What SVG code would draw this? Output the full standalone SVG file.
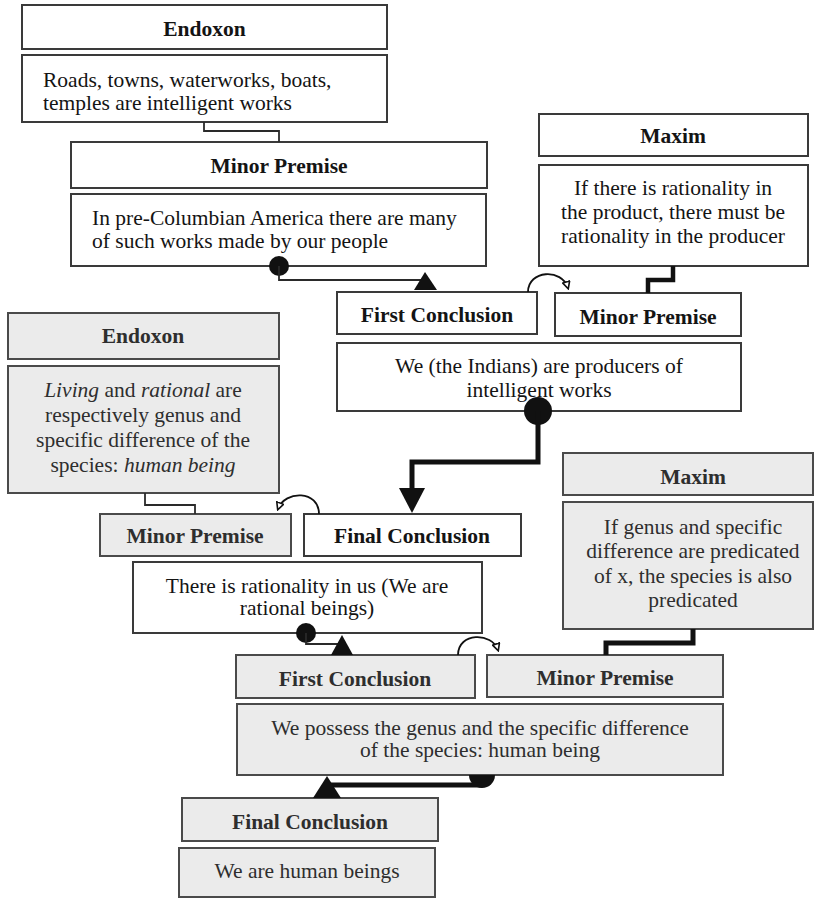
<svg xmlns="http://www.w3.org/2000/svg" width="815" height="898" viewBox="0 0 815 898">
  <style>
    .box { fill: #ffffff; stroke: #3a3a3a; stroke-width: 2; }
    .grey { fill: #ebebeb; stroke: #4a4a4a; stroke-width: 2; }
    text { font-family: "Liberation Serif", "Times New Roman", serif; font-size: 21.5px; fill: #141414; }
    .h { font-weight: bold; text-anchor: middle; }
    .c { text-anchor: middle; }
    .g { fill: #2e2e2e; }
    .thin { fill: none; stroke: #2a2a2a; stroke-width: 1.8; }
    .thick { fill: none; stroke: #111111; stroke-width: 5; }
    .arc { fill: none; stroke: #111111; stroke-width: 1.8; }
    .head { fill: #111111; }
  </style>
  <defs>
    <marker id="openHead" viewBox="0 0 10 10" refX="8" refY="5" markerWidth="9" markerHeight="9" markerUnits="userSpaceOnUse" orient="auto">
      <path d="M1,1 L9,5 L1,9 Z" fill="#ffffff" stroke="#111111" stroke-width="1.8"/>
    </marker>
  </defs>

  <rect width="815" height="898" fill="#ffffff"/>

  <!-- first argument -->
  <g id="endoxon-1-head">
    <rect class="box" x="22" y="5" width="365" height="44"/>
    <text class="h" x="204.5" y="36">Endoxon</text>
  </g>
  <g id="endoxon-1-body">
    <rect class="box" x="22" y="55" width="365" height="67"/>
    <text x="43" y="87">Roads, towns, waterworks, boats,</text>
    <text x="43" y="110">temples are intelligent works</text>
  </g>
  <g id="minor-premise-1-head">
    <rect class="box" x="71" y="142" width="416" height="46"/>
    <text class="h" x="279" y="173">Minor Premise</text>
  </g>
  <g id="minor-premise-1-body">
    <rect class="box" x="71" y="194" width="415" height="72"/>
    <text x="92" y="225">In pre-Columbian America there are many</text>
    <text x="92" y="248">of such works made by our people</text>
  </g>
  <g id="maxim-1-head">
    <rect class="box" x="539" y="114" width="269" height="42"/>
    <text class="h" x="673" y="143">Maxim</text>
  </g>
  <g id="maxim-1-body">
    <rect class="box" x="539" y="165" width="269" height="101"/>
    <text class="c" x="673" y="195">If there is rationality in</text>
    <text class="c" x="673" y="219">the product, there must be</text>
    <text class="c" x="673" y="243">rationality in the producer</text>
  </g>
  <g id="first-conclusion-1">
    <rect class="box" x="337" y="292" width="200" height="42"/>
    <text class="h" x="437" y="322">First Conclusion</text>
  </g>
  <g id="minor-premise-2">
    <rect class="box" x="555" y="293" width="186" height="43"/>
    <text class="h" x="648" y="324">Minor Premise</text>
  </g>
  <g id="first-conclusion-1-body">
    <rect class="box" x="337" y="343" width="404" height="68"/>
    <text class="c" x="539" y="373">We (the Indians) are producers of</text>
    <text class="c" x="539" y="397">intelligent works</text>
  </g>

  <!-- second argument -->
  <g id="endoxon-2-head">
    <rect class="grey" x="8" y="313" width="271" height="46"/>
    <text class="h g" x="143" y="343">Endoxon</text>
  </g>
  <g id="endoxon-2-body">
    <rect class="grey" x="8" y="366" width="271" height="127"/>
    <text class="c g" x="143" y="397"><tspan font-style="italic">Living</tspan> and <tspan font-style="italic">rational</tspan> are</text>
    <text class="c g" x="143" y="422">respectively genus and</text>
    <text class="c g" x="143" y="447">specific difference of the</text>
    <text class="c g" x="143" y="472">species: <tspan font-style="italic">human being</tspan></text>
  </g>
  <g id="minor-premise-3">
    <rect class="grey" x="100" y="514" width="191" height="42"/>
    <text class="h g" x="195" y="543">Minor Premise</text>
  </g>
  <g id="final-conclusion-1">
    <rect class="box" x="304" y="514" width="217" height="42"/>
    <text class="h" x="412" y="543">Final Conclusion</text>
  </g>
  <g id="final-conclusion-1-body">
    <rect class="box" x="133" y="562" width="349" height="71"/>
    <text class="c" x="307" y="593">There is rationality in us (We are</text>
    <text class="c" x="307" y="615">rational beings)</text>
  </g>
  <g id="maxim-2-head">
    <rect class="grey" x="563" y="453" width="250" height="42"/>
    <text class="h g" x="693" y="484">Maxim</text>
  </g>
  <g id="maxim-2-body">
    <rect class="grey" x="563" y="502" width="250" height="127"/>
    <text class="c g" x="693" y="534">If genus and specific</text>
    <text class="c g" x="693" y="558">difference are predicated</text>
    <text class="c g" x="693" y="583">of x, the species is also</text>
    <text class="c g" x="693" y="607">predicated</text>
  </g>
  <g id="first-conclusion-2">
    <rect class="grey" x="236" y="655" width="239" height="43"/>
    <text class="h g" x="355" y="686">First Conclusion</text>
  </g>
  <g id="minor-premise-4">
    <rect class="grey" x="487" y="655" width="236" height="42"/>
    <text class="h g" x="605" y="685">Minor Premise</text>
  </g>
  <g id="first-conclusion-2-body">
    <rect class="grey" x="237" y="704" width="486" height="71"/>
    <text class="c g" x="480" y="735">We possess the genus and the specific difference</text>
    <text class="c g" x="480" y="757">of the species: human being</text>
  </g>
  <g id="final-conclusion-2">
    <rect class="grey" x="182" y="798" width="256" height="43"/>
    <text class="h g" x="310" y="829">Final Conclusion</text>
  </g>
  <g id="final-conclusion-2-body">
    <rect class="grey" x="179" y="848" width="256" height="49"/>
    <text class="c g" x="307" y="878">We are human beings</text>
  </g>

  <!-- connectors -->
  <g id="connectors">
    <path class="thin" d="M204,122 V131 H279 V142"/>
    <circle class="head" cx="279" cy="266" r="10"/>
    <path class="thin" d="M279,266 V280 H422"/>
    <polygon class="head" points="425,272 414,290 437,290"/>
    <path class="thick" style="stroke-width:4.5" d="M673,266 V280 H648 V293"/>
    <path class="arc" d="M528,292 C528,270 562,268 568,288" marker-end="url(#openHead)"/>

    <circle class="head" cx="538" cy="411" r="14"/>
    <path class="thick" d="M538,411 V462 H412 V492"/>
    <polygon class="head" points="399,488 425,488 412,513"/>
    <path class="thin" d="M145,493 V505 H195 V514"/>
    <path class="arc" d="M319,514 C319,490 285,490 278,509" marker-end="url(#openHead)"/>

    <circle class="head" cx="306" cy="633" r="10"/>
    <path class="thin" d="M306,633 V644 H338"/>
    <polygon class="head" points="342,635 331,655 353,655"/>
    <path class="arc" d="M458,655 C458,632 492,632 498,650" marker-end="url(#openHead)"/>
    <path class="thick" d="M693,629 V643 H606 V655"/>

    <path class="head" d="M469,775 A13,13 0 0 0 495,775 Z"/>
    <path class="thick" d="M482,785 H327 V790"/>
    <polygon class="head" points="327,776 313,798 341,798"/>
  </g>
</svg>
